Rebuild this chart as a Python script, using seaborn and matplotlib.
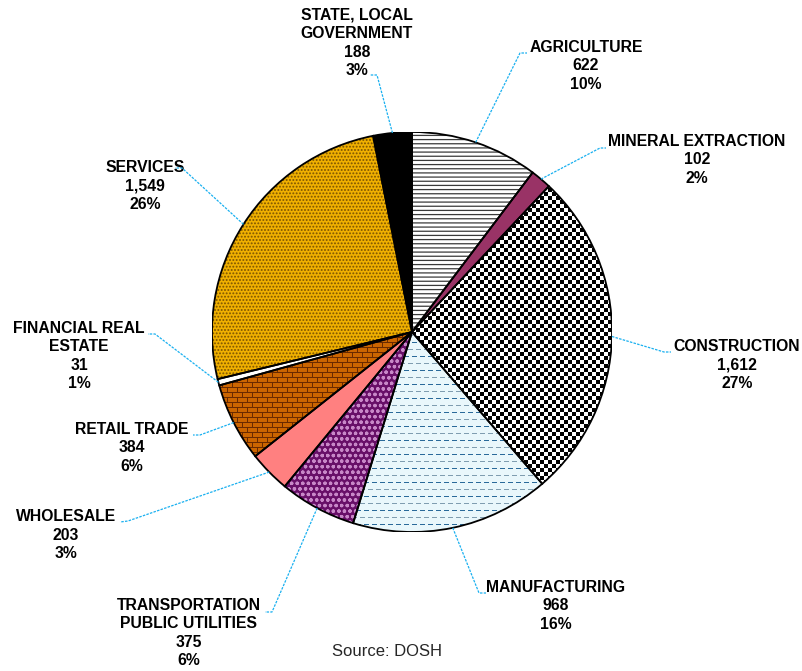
import numpy as np
import matplotlib.pyplot as plt
import seaborn as sns
from matplotlib.patches import Wedge

sns.set_theme(style="white")
plt.rcParams['font.family'] = ['Liberation Sans', 'DejaVu Sans']

# data (clockwise from 12 o'clock)
sectors = ["AGRICULTURE", "MINERAL EXTRACTION", "CONSTRUCTION", "MANUFACTURING",
           "TRANSPORTATION\nPUBLIC UTILITIES", "WHOLESALE", "RETAIL TRADE",
           "FINANCIAL REAL\nESTATE", "SERVICES", "STATE, LOCAL\nGOVERNMENT"]
counts = [622, 102, 1612, 968, 375, 203, 384, 31, 1549, 188]

# styling per wedge
face = ["white", "#993366", "white", "#eaf8fc", "#680f68", "#ff8080",
        "#cc6600", "white", "#f0b000", "black"]
hatches = ["----", "", "", "", "ooo", "", "", "", ".....", ""]
hatch_col = ["#3a3a3a", "none", "none", "none", "#c888c8", "none",
             "none", "none", "#7a5200", "none"]

# label layout in pixels: text centre, elbow, line end
lab_xy = [(586, 66), (697, 160), (737, 365), (556, 606), (189, 633),
          (66, 535), (132, 448), (79, 356), (145, 186), (357, 43)]
elbow = [(520, 53), (600, 148), (664, 352), (479, 593), (272, 612),
         (128, 521), (200, 435), (155, 334), (182, 168), (377, 75)]
lend = [(527, 53), (606, 148), (671, 352), (486, 593), (265, 612),
        (120, 522), (193, 435), (148, 334), (175, 168), (370, 75)]

W, H = 803, 671
CX, CY, R = 412, 332, 200


def px(x, y):
    return (x - CX) / R, (CY - y) / R


fig = plt.figure(figsize=(8.03, 6.71), dpi=100)
ax = fig.add_axes([(CX - R) / W, (H - CY - R) / H, 2 * R / W, 2 * R / H])

plt.rcParams['hatch.linewidth'] = 0.9
wedges, _ = ax.pie(counts, startangle=90, counterclock=False, radius=1,
                   colors=face, wedgeprops=dict(linewidth=0))
for w, h, hc in zip(wedges, hatches, hatch_col):
    if h:
        w.set_hatch(h)
        w.set_edgecolor(hc)
        w.set_linewidth(0)

# checkerboard for construction
n = 100
checker = np.indices((n, n)).sum(0) % 2
im = ax.imshow(checker, cmap="gray", extent=(-1, 1, -1, 1),
               interpolation="nearest", zorder=2)
im.set_clip_path(wedges[2])

# brick texture for retail trade
m = 400
ii, jj = np.indices((m, m))
row = ii // 5
mortar = (ii % 5 == 0) | (((jj + (row % 2) * 5) % 10) == 0)
brick = np.zeros((m, m, 3))
brick[:] = np.array([0xcc, 0x66, 0x00]) / 255
brick[mortar] = np.array([0x6a, 0x2a, 0x00]) / 255
im2 = ax.imshow(brick, extent=(-1, 1, -1, 1), interpolation="antialiased",
                zorder=2)
im2.set_clip_path(wedges[6])

# short dashes for manufacturing
dash = np.ones((m, m, 3))
dash[:] = np.array([0xea, 0xf8, 0xfc]) / 255
drow = ii // 7
on = (ii % 7 == 0) & (((jj + (drow % 2) * 4) % 8) < 5)
dash[on & (drow % 2 == 0)] = np.array([0x2a, 0x6a, 0x9a]) / 255
dash[on & (drow % 2 == 1)] = np.array([0x7f, 0x9d, 0xb0]) / 255
im3 = ax.imshow(dash, extent=(-1, 1, -1, 1), interpolation="antialiased",
                zorder=2)
im3.set_clip_path(wedges[3])

# black outlines on top
for w in wedges:
    ax.add_patch(Wedge(w.center, w.r, w.theta1, w.theta2, fill=False,
                       edgecolor="black", linewidth=1.3, zorder=3))

total = sum(counts)
for i, (name, c) in enumerate(zip(sectors, counts)):
    pct = round(c / total * 100)
    tx, ty = px(*lab_xy[i])
    ax.text(tx, ty, f"{name}\n{c:,}\n{pct}%", ha="center", va="center",
            fontsize=11.3, fontweight="bold", linespacing=1.3, color="black",
            clip_on=False)
    w = wedges[i]
    mid = np.deg2rad((w.theta1 + w.theta2) / 2)
    ex, ey = np.cos(mid), np.sin(mid)
    bx, by = px(*elbow[i])
    lx, ly = px(*lend[i])
    ax.plot([ex, bx, lx], [ey, by, ly], color="#19b0f0", lw=0.9,
            ls=(0, (2, 1)), clip_on=False, zorder=4)

fig.text(387 / W, 1 - 652 / H, "Source: DOSH", ha="center", va="center",
         fontsize=12)

ax.set_xlim(-1, 1)
ax.set_ylim(-1, 1)
ax.set_aspect("equal")
ax.axis("off")
fig.savefig("out.png", dpi=100, facecolor="white")
